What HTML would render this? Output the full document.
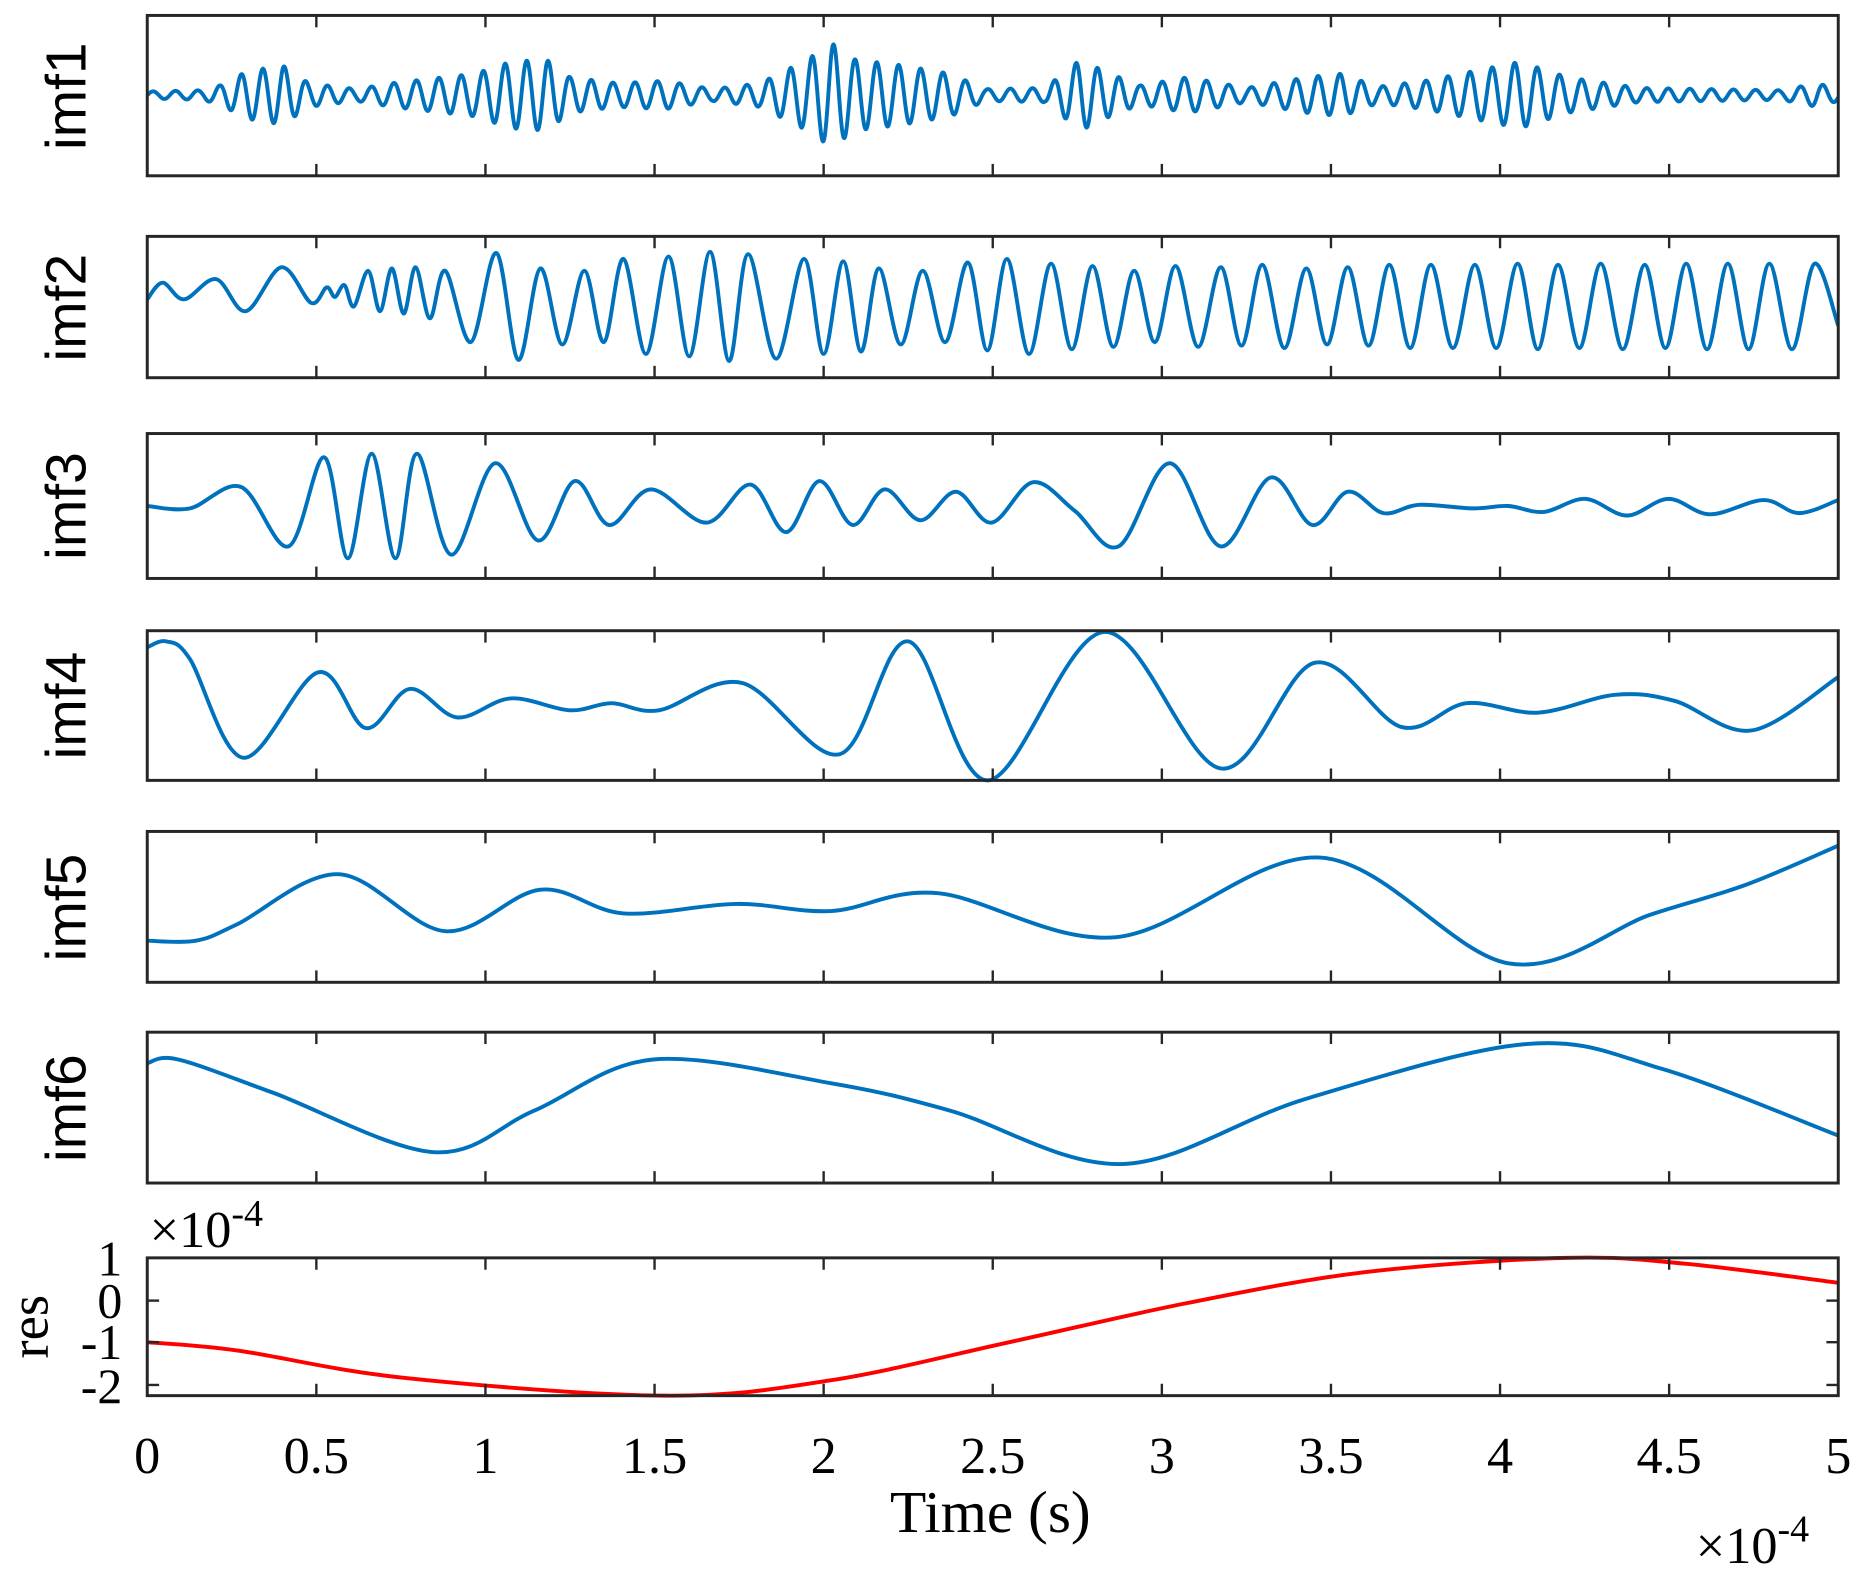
<!DOCTYPE html>
<html><head><meta charset="utf-8"><style>
html,body{margin:0;padding:0;background:#fff}
svg{display:block}
</style></head><body>
<svg id="s" width="1862" height="1575" viewBox="0 0 1568 1326" preserveAspectRatio="none" xmlns="http://www.w3.org/2000/svg">
<g id="g"></g>
<g font-family="Liberation Sans, Arial, sans-serif" font-size="48" fill="#000">
<text transform="translate(72,81) rotate(-90)" text-anchor="middle">imf1</text>
<text transform="translate(72,259) rotate(-90)" text-anchor="middle">imf2</text>
<text transform="translate(72,426) rotate(-90)" text-anchor="middle">imf3</text>
<text transform="translate(72,594) rotate(-90)" text-anchor="middle">imf4</text>
<text transform="translate(72,764) rotate(-90)" text-anchor="middle">imf5</text>
<text transform="translate(72,933) rotate(-90)" text-anchor="middle">imf6</text>
</g>
<g font-family="Liberation Serif, Times New Roman, serif" fill="#000">
<text transform="translate(40,1117) rotate(-90)" text-anchor="middle" font-size="46">res</text>
<g font-size="42" text-anchor="end">
<text x="103" y="1074">1</text><text x="103" y="1109">0</text>
<text x="103" y="1144">-1</text><text x="103" y="1181">-2</text>
</g>
<text x="126" y="1050" font-size="44">×10<tspan dy="-18" font-size="32">-4</tspan></text>
<g id="xl" font-size="44" text-anchor="middle"></g>
<text x="834" y="1290" font-size="50" text-anchor="middle">Time (s)</text>
<text x="1428" y="1316" font-size="44">×10<tspan dy="-18" font-size="32">-4</tspan></text>
</g>
</svg>
<script>
var X0=124,X1=1548,NS='http://www.w3.org/2000/svg';
var g=document.getElementById('g');
function el(t,a,p){var e=document.createElementNS(NS,t);for(var k in a)e.setAttribute(k,a[k]);(p||g).appendChild(e);return e;}
function cr(pts){var d='M'+pts[0][0]+','+pts[0][1];
for(var i=0;i<pts.length-1;i++){var p0=pts[i-1]||pts[i],p1=pts[i],p2=pts[i+1],p3=pts[i+2]||p2;
d+='C'+(p1[0]+(p2[0]-p0[0])/6)+','+(p1[1]+(p2[1]-p0[1])/6)+' '+(p2[0]-(p3[0]-p1[0])/6)+','+(p2[1]-(p3[1]-p1[1])/6)+' '+p2[0]+','+p2[1];}
return d;}
function fl(a){var r=[];for(var i=0;i<a.length;i+=2)r.push([a[i],a[i+1]]);return r;}
var panels=[[13,148],[199,318],[365,487],[531,657],[700,827],[869,996],[1059,1175]];
panels.forEach(function(p,i){var c=el('clipPath',{id:'c'+i});el('rect',{x:X0,y:p[0]-2,width:X1-X0,height:p[1]-p[0]+4},c);});
function line(d,i,col){el('path',{d:d,fill:'none',stroke:col||'#0072BD','stroke-width':3.3,'stroke-linejoin':'round','clip-path':'url(#c'+i+')'});}
(function(){var env=fl([124,3,170,4,185,8,208,20,238,25,260,10,300,5,330,10,400,18,430,28,460,30,480,15,520,10,560,12,600,5,640,10,680,30,700,44,720,30,760,25,800,18,830,5,880,6,910,30,930,20,960,8,1000,15,1050,6,1100,15,1130,18,1160,7,1200,12,1250,22,1280,28,1320,15,1380,6,1500,4,1530,10,1548,5]);
function A(x){for(var i=0;i<env.length-1;i++)if(x<=env[i+1][0]){var t=(x-env[i][0])/(env[i+1][0]-env[i][0]);return env[i][1]+t*(env[i+1][1]-env[i][1]);}return 5;}
var d='';for(var x=X0;x<=X1;x+=0.5){var y=80-A(x)*Math.sin((x-124)*2*Math.PI/18.5+0.3*Math.sin(x/37));d+=(d?'L':'M')+x+','+y.toFixed(2);}line(d,0);})();
(function(){var pts=[[124,252],[137,238],[155,252],[182,235],[207,262],[237,225],[262,255],[275,242],[282,250],[290,240],[298,258],[310,228],[320,262],[330,226],[340,264],[350,225],[362,268]];
var pk=[375,418,455,492,525,563,598,630,677,710,740,777,815,848,885,920,955,990,1028,1063,1100,1135,1170,1205,1242,1278,1312,1348,1385,1420,1455,1490,1528];
var amp=[30,45,32,30,40,42,46,44,40,38,32,30,37,40,36,34,30,34,33,35,32,33,35,35,35,36,35,36,35,36,36,36,36];
for(var i=0;i<pk.length;i++){var A=amp[i];pts.push([pk[i],258-A]);var nx=i<pk.length-1?(pk[i]+pk[i+1])/2:1548;pts.push([nx,258+A*(i==pk.length-1?0.45:1)]);}
line(cr(pts),1);})();
line(cr(fl([124,426,160,428,203,410,243,460,273,385,293,470,313,382,333,470,351,382,380,467,417,390,453,455,484,405,513,442,548,412,595,440,632,408,662,448,690,405,718,442,745,412,775,438,805,414,835,440,870,406,905,430,942,460,985,390,1028,460,1070,402,1105,442,1135,414,1165,432,1195,425,1240,428,1270,426,1300,431,1335,420,1370,434,1405,420,1440,433,1485,421,1515,432,1548,421])),2);
line(cr(fl([124,545,140,540,160,555,205,638,268,566,308,613,345,580,385,604,430,588,480,598,515,592,555,598,625,575,707,635,765,540,832,657,930,532,1028,647,1107,558,1180,612,1235,592,1295,600,1360,585,1410,590,1475,615,1548,570])),3);
line(cr(fl([124,792,165,792,200,778,285,736,375,784,455,749,525,769,620,761,700,767,790,752,940,789,1112,722,1270,811,1390,770,1470,745,1548,712])),4);
line(cr(fl([124,895,150,892,230,920,365,970,450,935,550,892,700,912,800,935,945,980,1100,925,1285,879,1400,900,1548,956])),5);
line(cr(fl([124,1130,200,1137,340,1160,560,1175,700,1162,850,1130,1000,1097,1150,1071,1318,1059,1420,1064,1548,1080])),6,'#FF0000');
panels.forEach(function(p,i){
 el('rect',{x:X0,y:p[0],width:X1-X0,height:p[1]-p[0],fill:'none',stroke:'#262626','stroke-width':2.5});
 for(var k=1;k<10;k++){var x=X0+(X1-X0)*k/10;el('line',{x1:x,y1:p[1],x2:x,y2:p[1]-10,stroke:'#262626','stroke-width':2});el('line',{x1:x,y1:p[0],x2:x,y2:p[0]+10,stroke:'#262626','stroke-width':2});}
});
[1095,1130,1166].forEach(function(y){el('line',{x1:X0,y1:y,x2:X0+10,y2:y,stroke:'#262626','stroke-width':2});el('line',{x1:X1,y1:y,x2:X1-10,y2:y,stroke:'#262626','stroke-width':2});});
var xl=document.getElementById('xl');
['0','0.5','1','1.5','2','2.5','3','3.5','4','4.5','5'].forEach(function(s,k){var t=el('text',{x:X0+(X1-X0)*k/10,y:1240},xl);t.textContent=s;});
</script>
</body></html>
